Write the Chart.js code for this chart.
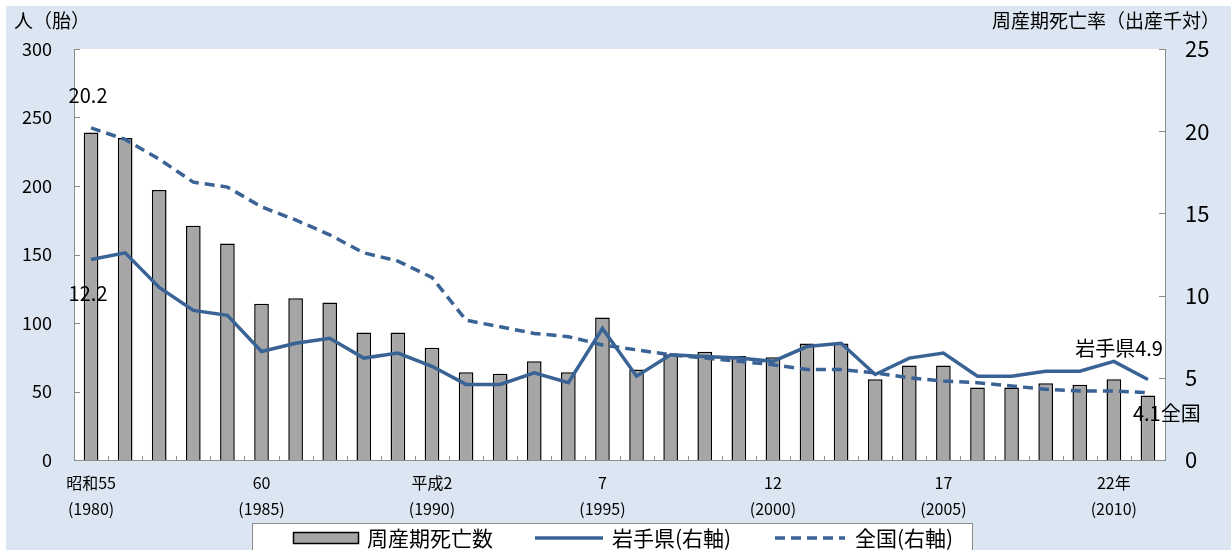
<!DOCTYPE html>
<html>
<head>
<meta charset="utf-8">
<script src="https://cdn.jsdelivr.net/npm/chart.js@4"></script>
<style>
  html, body { margin: 0; padding: 0; background: #ffffff; }
  #wrap { width: 1231px; height: 550px; }
</style>
</head>
<body>
<div id="wrap"><canvas id="myChart" width="1231" height="550"></canvas></div>
<script>
// Years shown (昭和55 .. 平成23)
var years = [1980, 1981, 1982, 1983, 1984, 1985, 1986, 1987, 1988, 1989,
             1990, 1991, 1992, 1993, 1994, 1995, 1996, 1997, 1998, 1999,
             2000, 2001, 2002, 2003, 2004, 2005, 2006, 2007, 2008, 2009,
             2010, 2011];

// Tick labels (only every 5 years is labelled)
var eraTickLabels = ['昭和55', '60', '平成2', '7', '12', '17', '22年'];
var westTickLabels = ['(1980)', '(1985)', '(1990)', '(1995)', '(2000)', '(2005)', '(2010)'];
var tickYears = [1980, 1985, 1990, 1995, 2000, 2005, 2010];

// 周産期死亡数 (left axis, 人/胎)
var deathCounts = [239, 235, 197, 171, 158, 114, 118, 115, 93, 93,
                   82, 64, 63, 72, 64, 104, 66, 77, 79, 76,
                   75, 85, 85, 59, 69, 69, 53, 53, 56, 55,
                   59, 47];

// 周産期死亡率 岩手県 (right axis)
var iwateRate = [12.2, 12.6, 10.5, 9.1, 8.8, 6.6, 7.1, 7.4, 6.2, 6.5,
                 5.7, 4.6, 4.6, 5.3, 4.7, 8.0, 5.1, 6.4, 6.3, 6.2,
                 6.0, 6.9, 7.1, 5.2, 6.2, 6.5, 5.1, 5.1, 5.4, 5.4,
                 6.0, 4.9];

// 周産期死亡率 全国 (right axis)
var nationalRate = [20.2, 19.5, 18.3, 16.9, 16.6, 15.4, 14.6, 13.7, 12.6, 12.1,
                    11.1, 8.5, 8.1, 7.7, 7.5, 7.0, 6.7, 6.4, 6.2, 6.0,
                    5.8, 5.5, 5.5, 5.3, 5.0, 4.8, 4.7, 4.5, 4.3, 4.2,
                    4.2, 4.1];

var FONT = "'Noto Sans CJK JP', 'Noto Sans', sans-serif";
var lineColor = '#3a6395';
var barColor = '#a6a6a6';
var axisColor = '#8c8c8c';

// Build the two-line category labels
var labels = years.map(function(y) {
    var k = tickYears.indexOf(y);
    if (k < 0) return '';
    return [eraTickLabels[k], westTickLabels[k]];
});

// Light blue panel behind the chart, white plot area
var backgroundPlugin = {
    id: 'panel',
    beforeDraw: function(chart) {
        var ctx = chart.ctx, a = chart.chartArea;
        ctx.save();
        ctx.fillStyle = '#ffffff';
        ctx.fillRect(0, 0, chart.width, chart.height);
        ctx.fillStyle = '#dce6f2';
        ctx.fillRect(6, 6, chart.width - 6, chart.height - 6);
        ctx.fillStyle = '#ffffff';
        ctx.fillRect(a.left, a.top, a.right - a.left, a.bottom - a.top);
        ctx.restore();
    }
};

// Axis titles, inward tick marks, data labels and legend
var decorPlugin = {
    id: 'decor',
    afterDraw: function(chart) {
        var ctx = chart.ctx;
        var y = chart.scales.y, y2 = chart.scales.y2, x = chart.scales.x;
        ctx.save();

        // inward tick marks
        ctx.strokeStyle = axisColor;
        ctx.lineWidth = 1;
        ctx.beginPath();
        y.ticks.forEach(function(t) {
            var py = Math.round(y.getPixelForValue(t.value)) + 0.5;
            ctx.moveTo(y.right, py); ctx.lineTo(y.right + 6, py);
        });
        y2.ticks.forEach(function(t) {
            var py = Math.round(y2.getPixelForValue(t.value)) + 0.5;
            ctx.moveTo(y2.left, py); ctx.lineTo(y2.left - 6, py);
        });
        for (var i = 0; i <= years.length; i++) {
            var px = Math.round(x.left + i * (x.right - x.left) / years.length) + 0.5;
            ctx.moveTo(px, x.top); ctx.lineTo(px, x.top - 4);
        }
        ctx.stroke();

        // axis titles
        ctx.fillStyle = '#000000';
        ctx.font = '19px ' + FONT;
        ctx.textBaseline = 'middle';
        ctx.textAlign = 'left';
        ctx.fillText('人（胎）', 14, 21);
        ctx.textAlign = 'right';
        ctx.fillText('周産期死亡率（出産千対）', 1220, 21);

        // data labels
        var iw = chart.getDatasetMeta(1).data;
        var na = chart.getDatasetMeta(2).data;
        var last = years.length - 1;
        ctx.font = '20px ' + FONT;
        ctx.textAlign = 'center';
        ctx.fillText('20.2', na[0].x - 3, na[0].y - 33);
        ctx.fillText('12.2', iw[0].x - 3, iw[0].y + 34);
        ctx.textAlign = 'right';
        ctx.fillText('岩手県4.9', iw[last].x + 15, iw[last].y - 31);
        ctx.textAlign = 'left';
        ctx.fillText('4.1全国', na[last].x - 15, na[last].y + 21);

        // legend
        var lx = 252.5, ly = 523.5;
        ctx.fillStyle = '#ffffff';
        ctx.fillRect(lx, ly, 720, 40);
        ctx.strokeStyle = axisColor;
        ctx.strokeRect(lx, ly, 720, 40);
        var cy = 538;
        ctx.fillStyle = barColor;
        ctx.fillRect(293.5, 532.5, 65, 11);
        ctx.strokeStyle = '#000000';
        ctx.lineWidth = 1.5;
        ctx.strokeRect(293.5, 532.5, 65, 11);
        ctx.strokeStyle = lineColor;
        ctx.lineWidth = 3.5;
        ctx.beginPath(); ctx.moveTo(535, cy); ctx.lineTo(603, cy); ctx.stroke();
        ctx.setLineDash([10, 6]);
        ctx.beginPath(); ctx.moveTo(775, cy); ctx.lineTo(845, cy); ctx.stroke();
        ctx.setLineDash([]);
        ctx.fillStyle = '#000000';
        ctx.font = '21px ' + FONT;
        ctx.textAlign = 'left';
        ctx.fillText('周産期死亡数', 367, cy);
        ctx.fillText('岩手県(右軸)', 612, cy);
        ctx.fillText('全国(右軸)', 855, cy);
        ctx.restore();
    }
};

var ctx = document.getElementById('myChart').getContext('2d');
var config = {
    data: {
        labels: labels,
        datasets: [{
            type: 'bar',
            label: '周産期死亡数',
            data: deathCounts,
            yAxisID: 'y',
            backgroundColor: barColor,
            borderColor: '#000000',
            borderWidth: 1.5,
            barPercentage: 0.43,
            categoryPercentage: 1.0,
            order: 3
        }, {
            type: 'line',
            label: '岩手県（右軸）',
            data: iwateRate,
            yAxisID: 'y2',
            borderColor: lineColor,
            borderWidth: 3.5,
            pointRadius: 0,
            tension: 0,
            fill: false,
            order: 1
        }, {
            type: 'line',
            label: '全国（右軸）',
            data: nationalRate,
            yAxisID: 'y2',
            borderColor: lineColor,
            borderWidth: 3.5,
            borderDash: [10, 6],
            pointRadius: 0,
            tension: 0,
            fill: false,
            order: 2
        }]
    },
    options: {
        responsive: false,
        animation: false,
        layout: { padding: { top: 49, left: 0, right: 0, bottom: 0 } },
        plugins: {
            legend: { display: false },
            tooltip: { enabled: false }
        },
        scales: {
            x: {
                offset: true,
                grid: { display: false },
                border: { display: true, color: axisColor, width: 1 },
                ticks: {
                    autoSkip: false,
                    maxRotation: 0,
                    padding: 2,
                    color: '#000000',
                    font: { family: FONT, size: 16, lineHeight: 1.62 }
                },
                afterFit: function(s) { s.height = 90; }
            },
            y: {
                position: 'left',
                min: 0, max: 300,
                grid: { display: false, drawTicks: false },
                border: { display: true, color: axisColor, width: 1 },
                ticks: {
                    stepSize: 50,
                    padding: 22,
                    color: '#000000',
                    font: { family: FONT, size: 18 }
                },
                afterFit: function(s) { s.width = 74; }
            },
            y2: {
                position: 'right',
                min: 0, max: 25,
                grid: { display: false, drawTicks: false },
                border: { display: true, color: axisColor, width: 1 },
                ticks: {
                    stepSize: 5,
                    padding: 20,
                    color: '#000000',
                    font: { family: FONT, size: 22 }
                },
                afterFit: function(s) { s.width = 66; }
            }
        }
    },
    plugins: [backgroundPlugin, decorPlugin]
};
var chart = new Chart(ctx, config);
</script>
</body>
</html>
